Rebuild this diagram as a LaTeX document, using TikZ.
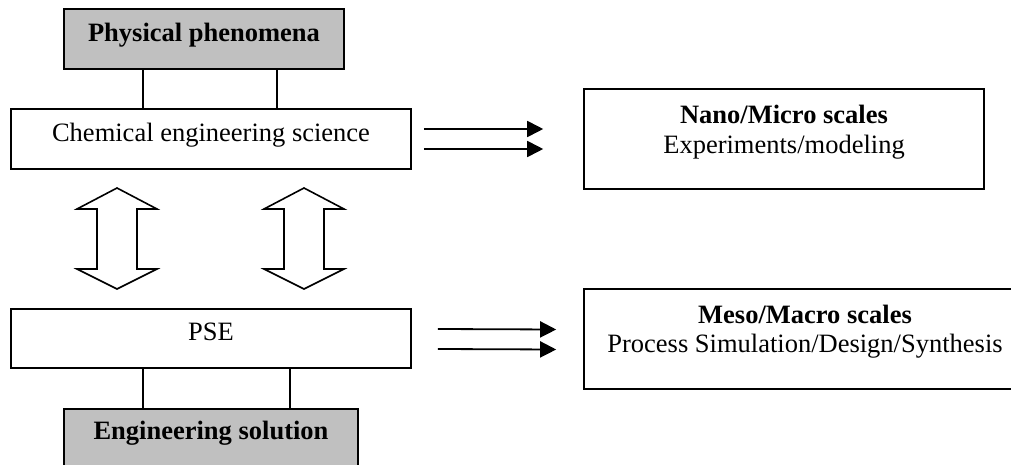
\documentclass[tikz,border=0pt]{standalone}
\usepackage{fontspec}
\setmainfont{Liberation Serif}
\usetikzlibrary{arrows.meta,calc}
\definecolor{boxgray}{HTML}{C0C0C0}
\begin{document}
\begin{tikzpicture}[x=1pt,y=-1pt,
  txt/.style={font=\fontsize{26.5}{30}\selectfont},
  box/.style={draw, line width=1.6pt, inner sep=0pt, txt,
    text height=0.69em, text depth=0.22em},
  graybox/.style={box, fill=boxgray, font=\fontsize{26.5}{30}\selectfont\bfseries},
  link/.style={line width=1.6pt},
  arr/.style={line width=1.8pt, -{Triangle[length=16pt,width=16pt]}},
  hollow/.style={draw, line width=1.6pt, fill=white, line join=miter}]
\useasboundingbox (0,0) rectangle (1011,465);
% left column
\node[graybox, minimum width=280, minimum height=60] (phys) at (204,39) {Physical phenomena};
\node[box, minimum width=400, minimum height=60] (ces) at (211,139) {Chemical engineering science};
\node[box, minimum width=400, minimum height=59] (pse) at (211,338.5) {PSE};
\node[graybox, minimum width=294, minimum height=57] (eng) at (211,437.5) {Engineering solution};
% right boxes
\node[box, minimum width=400, minimum height=100] (nano) at (784,139) {};
\node[txt, font=\fontsize{26.5}{30}\selectfont\bfseries, anchor=base, inner sep=0pt] (nanot) at (784,124) {Nano/Micro scales};
\node[txt, anchor=base, inner sep=0pt] (nanob) at (784,154) {Experiments/modeling};
\node[box, minimum width=442, minimum height=100] (meso) at (805,339) {};
\node[txt, font=\fontsize{26.5}{30}\selectfont\bfseries, anchor=base, inner sep=0pt] (mesot) at (805,323) {Meso/Macro scales};
\node[txt, anchor=base, inner sep=0pt] (mesob) at (805,352) {Process Simulation/Design/Synthesis};
% vertical links
\coordinate (t1) at ($(phys.south west)+(80,0)$);
\coordinate (t2) at ($(phys.south west)+(214,0)$);
\coordinate (b1) at ($(eng.north west)+(80,0)$);
\coordinate (b2) at ($(eng.north west)+(227,0)$);
\draw[link] (t1) -- (t1 |- ces.north);
\draw[link] (t2) -- (t2 |- ces.north);
\draw[link] (b1) -- (b1 |- pse.south);
\draw[link] (b2) -- (b2 |- pse.south);
% horizontal arrows
\draw[arr] ($(ces.east)+(12,-10)$) -- ($(nano.west)+(-40,-10)$);
\draw[arr] ($(ces.east)+(12,10)$) -- ($(nano.west)+(-40,10)$);
\draw[arr] ($(pse.east)+(26,-9.5)$) -- ($(meso.west)+(-27,-9.5)$);
\draw[arr] ($(pse.east)+(26,10.5)$) -- ($(meso.west)+(-27,10.5)$);
% hollow double arrows
\foreach \cx in {117,304}{
  \draw[hollow] (\cx-20,209) -- (\cx-40,209) -- (\cx,188) -- (\cx+40,209) -- (\cx+20,209)
    -- (\cx+20,269) -- (\cx+40,269) -- (\cx,289) -- (\cx-40,269) -- (\cx-20,269) -- cycle;
}
\end{tikzpicture}
\end{document}
